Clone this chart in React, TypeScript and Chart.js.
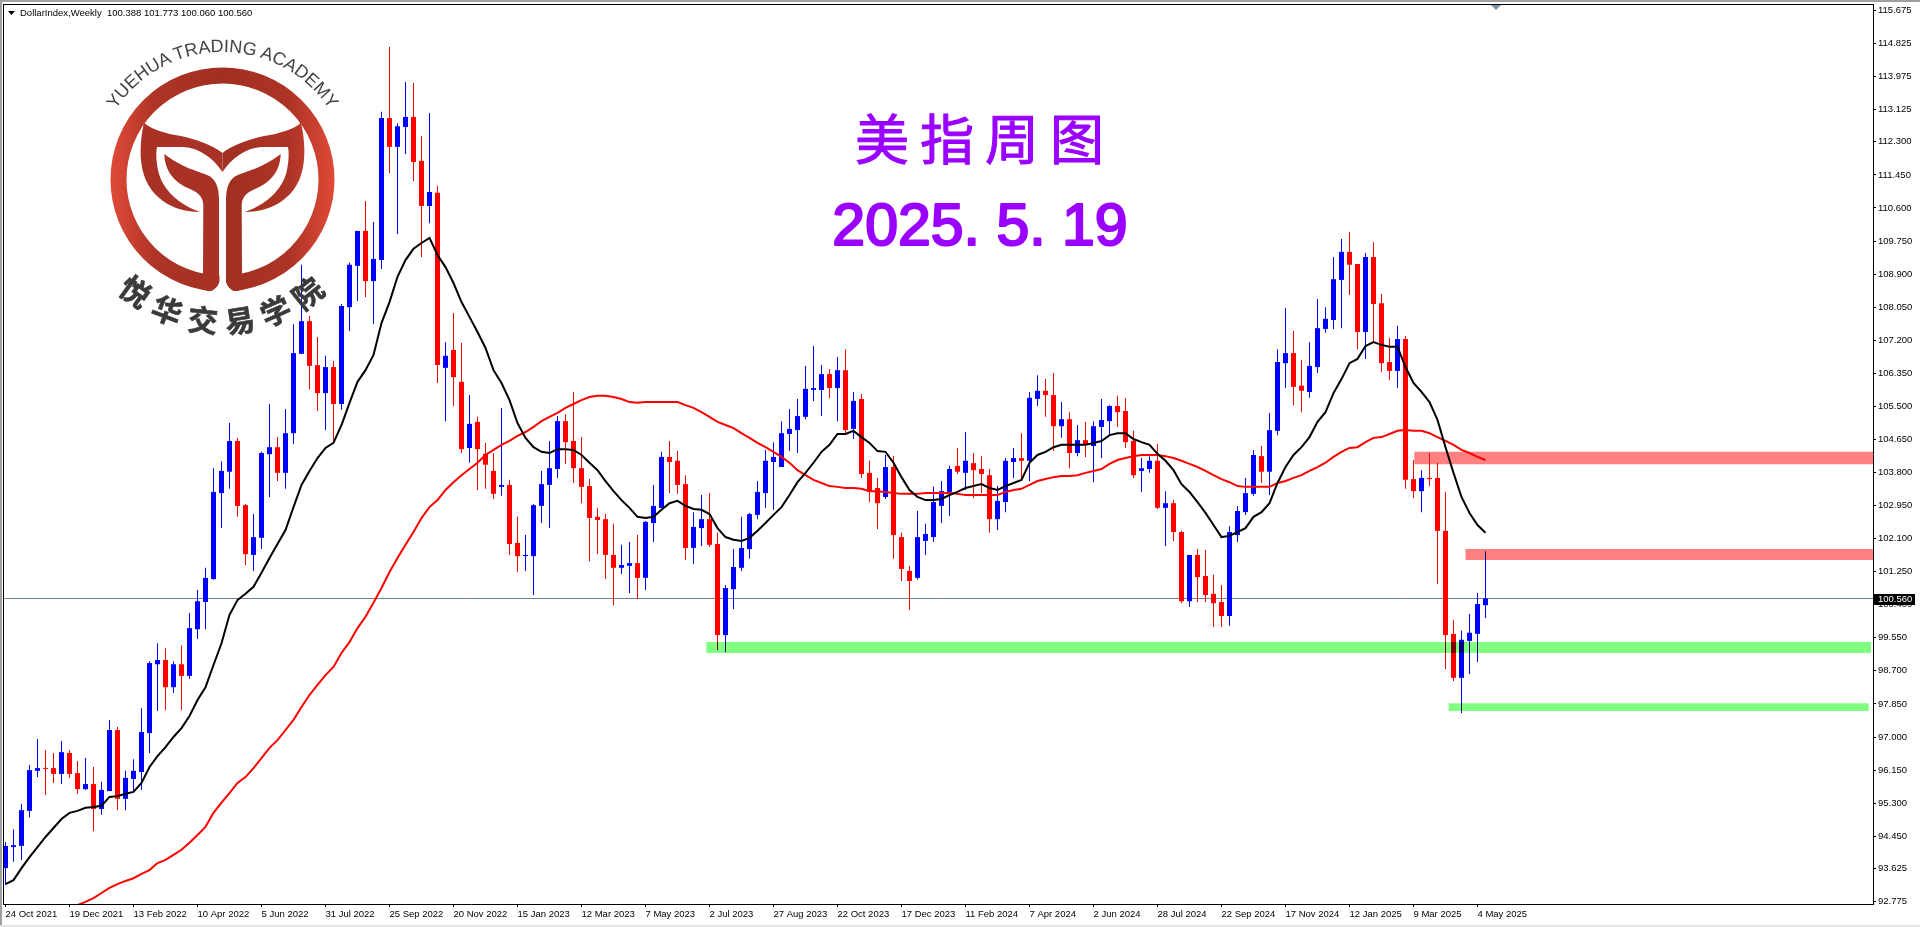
import React, { useEffect, useRef } from "react";
import { Chart, registerables } from "chart.js";

Chart.register(...registerables);

const priceTicks = [115.675,114.825,113.975,113.125,112.3,111.45,110.6,109.75,108.9,108.05,107.2,106.35,105.5,104.65,103.8,102.95,102.1,101.25,100.4,99.55,98.7,97.85,97,96.15,95.3,94.45,93.625,92.775];
const dateTicks = ["24 Oct 2021","19 Dec 2021","13 Feb 2022","10 Apr 2022","5 Jun 2022","31 Jul 2022","25 Sep 2022","20 Nov 2022","15 Jan 2023","12 Mar 2023","7 May 2023","2 Jul 2023","27 Aug 2023","22 Oct 2023","17 Dec 2023","11 Feb 2024","7 Apr 2024","2 Jun 2024","28 Jul 2024","22 Sep 2024","17 Nov 2024","12 Jan 2025","9 Mar 2025","4 May 2025"];

const opens = [
93.63,94.17,94.20,95.10,96.13,96.20,96.20,96.05,96.59,96.07,
95.66,95.79,95.15,95.61,97.18,95.41,95.92,96.10,97.10,98.87,
98.98,98.28,98.87,98.57,99.77,100.47,101.06,103.27,103.82,104.61,
102.96,101.68,102.12,104.27,104.45,103.79,104.81,106.85,107.69,106.56,
105.84,106.51,105.56,108.05,109.11,110.01,108.72,109.26,112.91,112.17,
112.68,112.94,111.81,110.65,110.99,106.49,106.95,106.13,104.43,105.10,
104.28,103.84,103.43,103.48,101.99,101.65,101.65,102.94,103.48,103.89,
105.12,104.61,103.91,103.45,102.66,102.60,101.68,101.35,101.40,101.47,
101.09,102.50,102.89,104.20,104.10,103.50,101.86,102.37,102.60,101.96,
99.62,100.80,101.35,101.83,102.71,103.27,104.07,103.94,104.79,104.89,
105.23,105.92,105.92,106.33,105.97,106.43,104.92,105.69,103.79,103.40,
103.17,103.94,102.14,101.27,101.09,102.04,102.14,102.94,103.30,103.97,
103.79,104.04,103.89,103.73,102.60,103.04,104.07,104.17,104.10,105.69,
105.90,105.79,104.99,105.17,104.30,104.63,104.48,104.97,105.12,105.51,
105.38,104.61,103.84,103.89,104.10,102.89,103.01,102.27,100.49,101.68,
101.14,100.68,100.47,100.11,102.19,102.78,103.25,104.22,103.82,104.87,
106.61,106.87,106.03,105.87,106.51,107.49,107.72,108.75,109.47,109.16,
107.41,109.34,108.15,106.64,106.41,107.23,103.63,103.32,103.66,103.66,
102.30,99.65,98.52,99.47,99.65,100.388];

const highs = [
94.30,94.63,95.28,96.28,96.95,96.66,96.59,96.90,96.66,96.38,
96.46,96.23,95.85,97.44,97.26,96.13,96.43,97.74,98.95,99.41,
99.28,98.95,99.36,100.19,100.78,101.35,103.91,104.09,105.07,104.69,
102.99,102.73,104.33,105.56,104.71,105.43,107.61,109.14,107.82,107.28,
106.80,106.67,108.13,109.19,110.01,110.78,110.24,113.07,114.74,112.78,
113.84,113.81,112.45,113.04,111.17,107.15,107.90,107.13,105.79,105.23,
104.56,104.30,105.46,103.61,102.66,102.19,102.99,103.84,104.61,105.25,
105.30,105.87,104.71,103.63,102.89,102.73,102.48,101.94,102.01,102.19,
102.55,103.48,104.33,104.61,104.35,103.73,102.78,103.22,103.27,102.25,
100.91,101.83,102.66,102.76,103.58,104.38,104.58,105.12,105.43,105.69,
106.54,107.05,106.56,106.46,106.77,106.97,105.87,105.82,104.10,103.66,
104.25,104.23,102.25,101.40,102.81,102.48,103.43,103.58,103.97,104.43,
104.84,104.30,104.22,103.89,103.45,104.17,104.43,104.81,105.87,106.30,
106.20,106.36,105.61,105.35,105.02,105.10,105.12,105.69,105.53,105.77,
105.71,104.87,104.17,104.22,104.53,103.32,103.09,102.30,101.68,101.83,
101.81,101.17,100.91,102.42,102.94,103.66,104.38,104.48,105.33,106.97,
108.03,107.44,106.69,107.15,108.26,108.05,109.34,109.80,109.98,109.16,
109.44,109.72,108.39,107.26,107.57,107.31,104.12,103.86,104.30,104.05,
103.30,100.01,99.73,100.16,100.70,101.773];

const lows = [
93.20,93.79,93.84,94.94,95.97,95.51,95.82,95.79,95.95,95.54,
95.64,94.58,95.00,95.61,95.12,95.12,95.61,95.64,96.59,97.67,
97.69,98.13,97.69,98.49,99.52,99.77,101.04,102.37,103.38,102.66,
101.42,101.27,101.83,103.17,103.58,103.38,104.53,106.85,105.94,105.38,
104.89,104.56,105.41,107.44,108.21,108.31,107.62,109.03,111.50,109.93,
111.99,111.29,109.34,110.21,106.10,105.12,105.51,104.30,104.05,103.35,
103.38,103.12,103.20,101.68,101.24,101.27,100.65,102.50,102.37,103.66,
104.02,103.53,103.01,101.52,101.70,101.06,100.39,101.19,100.70,100.55,
100.78,102.01,102.89,103.27,103.25,101.55,101.45,101.91,101.89,99.23,
99.18,100.29,101.27,101.58,102.60,102.89,102.84,103.94,104.35,104.30,
105.17,105.64,105.25,105.71,105.12,104.81,104.66,103.66,103.04,102.35,
103.12,101.58,101.01,100.27,101.04,101.68,102.01,102.50,102.68,103.76,
103.35,103.14,103.27,102.25,102.32,102.78,103.66,103.58,103.58,105.51,
105.23,104.35,104.69,103.91,104.22,104.20,103.55,104.17,104.77,104.97,
104.43,103.66,103.30,103.79,102.86,101.91,102.04,100.44,100.34,100.47,
100.47,99.83,99.83,99.86,102.01,102.71,103.20,103.53,103.22,104.76,
105.97,105.53,105.35,105.72,106.36,107.39,107.49,107.51,108.36,106.97,
106.72,107.15,106.38,106.18,105.97,103.38,103.14,102.78,103.45,100.93,
98.75,98.44,97.62,98.62,98.93,100.06];

const closes = [
94.20,94.22,95.12,96.15,96.20,96.18,96.05,96.61,96.05,95.66,
95.79,95.15,95.64,97.18,95.41,95.95,96.13,97.13,98.90,98.98,
98.28,98.87,98.57,99.80,100.49,101.09,103.30,103.84,104.61,102.94,
101.70,102.14,104.30,104.45,103.79,104.81,106.87,107.69,106.54,105.84,
106.51,105.56,108.08,109.14,110.01,108.72,109.29,112.91,112.17,112.70,
112.94,111.78,110.65,111.01,106.56,106.80,106.25,104.40,105.05,104.40,
104.00,103.25,103.48,101.96,101.65,101.68,102.96,103.50,103.91,105.12,
104.58,103.91,103.43,102.63,102.58,101.68,101.35,101.42,101.47,101.09,
102.53,102.94,104.20,104.07,103.48,101.86,102.40,102.60,101.94,99.62,
100.83,101.37,101.86,102.73,103.30,104.10,104.20,104.81,104.92,105.25,
105.95,105.97,106.33,105.97,106.43,104.89,105.64,103.76,103.30,103.01,
103.94,102.19,101.32,101.01,102.14,102.22,103.04,103.32,103.89,103.82,
104.10,103.86,103.76,102.60,103.07,104.10,104.17,104.10,105.72,105.90,
105.79,104.99,105.17,104.30,104.63,104.53,104.99,105.15,105.51,105.35,
104.58,103.73,103.91,104.10,102.89,103.01,102.27,100.49,101.68,101.11,
100.65,100.44,100.11,102.27,102.81,103.27,104.25,103.82,104.89,106.64,
106.87,106.00,105.90,106.54,107.51,107.75,108.77,109.47,109.14,107.41,
109.34,108.13,106.61,106.41,107.23,103.61,103.32,103.66,103.63,102.30,
99.62,98.52,99.50,99.68,100.42,100.56];

const blackMa = [
93.22,93.32,93.63,93.91,94.17,94.43,94.66,94.89,95.05,95.10,
95.18,95.20,95.23,95.46,95.48,95.54,95.59,95.82,96.23,96.51,
96.74,97.00,97.23,97.54,97.95,98.28,98.85,99.41,100.14,100.52,
100.68,100.86,101.22,101.60,101.96,102.32,102.91,103.48,103.84,104.17,
104.43,104.56,105.02,105.59,106.13,106.43,106.82,107.64,108.18,108.83,
109.26,109.55,109.70,109.83,109.39,109.08,108.67,108.18,107.80,107.41,
107.00,106.43,106.10,105.66,105.07,104.69,104.45,104.33,104.30,104.40,
104.40,104.38,104.25,104.05,103.86,103.58,103.32,103.09,102.89,102.66,
102.63,102.66,102.84,103.01,103.07,102.94,102.86,102.84,102.73,102.37,
102.14,102.07,102.04,102.12,102.30,102.50,102.71,102.91,103.22,103.55,
103.79,104.05,104.33,104.51,104.79,104.79,104.87,104.71,104.56,104.35,
104.33,104.05,103.68,103.35,103.17,103.09,103.09,103.12,103.22,103.30,
103.40,103.45,103.50,103.40,103.35,103.45,103.53,103.61,104.05,104.25,
104.33,104.45,104.51,104.51,104.51,104.51,104.56,104.61,104.76,104.81,
104.81,104.66,104.58,104.51,104.28,104.10,103.86,103.50,103.30,103.04,
102.76,102.45,102.14,102.17,102.27,102.37,102.66,102.78,103.01,103.53,
103.94,104.25,104.45,104.71,105.10,105.35,105.84,106.20,106.61,106.72,
107.05,107.15,107.08,107.03,107.03,106.51,106.10,105.87,105.61,105.15,
104.45,103.79,103.17,102.76,102.45,102.25];

const redMaStart = 9;
const redMa = [
92.68,92.76,92.86,92.99,93.12,93.22,93.30,93.37,93.48,93.58,
93.76,93.84,93.97,94.10,94.28,94.48,94.69,95.05,95.31,95.56,
95.82,95.97,96.20,96.46,96.72,96.92,97.18,97.44,97.77,98.08,
98.34,98.59,98.80,99.16,99.44,99.80,100.09,100.45,100.83,101.24,
101.60,101.94,102.27,102.63,102.91,103.09,103.35,103.55,103.73,103.89,
104.05,104.25,104.38,104.51,104.61,104.74,104.84,104.97,105.12,105.23,
105.33,105.46,105.56,105.66,105.74,105.77,105.77,105.74,105.69,105.61,
105.59,105.61,105.61,105.61,105.61,105.61,105.53,105.46,105.35,105.23,
105.10,105.02,104.94,104.81,104.69,104.56,104.45,104.33,104.20,104.05,
103.86,103.73,103.61,103.53,103.45,103.43,103.40,103.40,103.38,103.32,
103.32,103.30,103.27,103.25,103.25,103.25,103.27,103.27,103.27,103.27,
103.25,103.22,103.22,103.22,103.22,103.22,103.30,103.35,103.38,103.48,
103.58,103.63,103.68,103.71,103.71,103.73,103.79,103.84,103.89,104.02,
104.12,104.17,104.22,104.25,104.25,104.25,104.22,104.17,104.10,104.02,
103.94,103.84,103.73,103.63,103.55,103.45,103.43,103.43,103.43,103.43,
103.53,103.58,103.66,103.73,103.84,103.94,104.05,104.20,104.33,104.43,
104.45,104.58,104.69,104.71,104.79,104.87,104.89,104.87,104.87,104.81,
104.71,104.61,104.51,104.38,104.30,104.20,104.12];

const zoneStarts = [176.1, 182.5, 87.6, 180.4];
const zoneEnds = [233.44, 233.44, 233.2, 232.9];
const zoneLows = [104.01, 101.55, 99.16, 97.67];
const zoneHighs = [104.33, 101.83, 99.44, 97.87];
const zoneColors = ["#ff8080", "#ff8080", "#80ff80", "#80ff80"];

const lastPrice = 100.56;
const headerName = "DollarIndex,Weekly";
const headerQuote = "100.388 101.773 100.060 100.560";
const titleCn = "美指周图";
const titleDate = "2025. 5. 19";

const xMin = -0.1875;
const xMax = 233.4375;
const yMax = 115.843;
const yMin = 92.707;
const pxPerUnit = 900 / (yMax - yMin);
const axisFont = { family: "'Liberation Sans',sans-serif", size: 9.5 };

const blendPlugin = {
  id: "zoneBlend",
  beforeDatasetDraw(chart: any, args: any) {
    if (chart.data.datasets[args.index].isZone) chart.ctx.globalCompositeOperation = "multiply";
  },
  afterDatasetDraw(chart: any, args: any) {
    if (chart.data.datasets[args.index].isZone) chart.ctx.globalCompositeOperation = "source-over";
  },
};

const framePlugin = {
  id: "frame",
  beforeDraw(chart: any) {
    const { ctx, width, height, chartArea: a } = chart;
    ctx.save();
    ctx.fillStyle = "#ffffff";
    ctx.fillRect(0, 0, width, height);
    ctx.fillStyle = "#a0a0a0";
    ctx.fillRect(0, 0, width, 2);
    ctx.fillRect(0, 0, 2, height);
    ctx.fillStyle = "#e4e4e4";
    ctx.fillRect(0, height - 2, width, 2);
    ctx.fillStyle = "#000000";
    ctx.fillRect(3, a.top, a.right - 3, 1);
    ctx.fillRect(3, a.top, 1, a.bottom - a.top + 1);
    ctx.restore();
  },
  afterDraw(chart: any) {
    const { ctx, scales, chartArea: a } = chart;
    ctx.save();
    // header
    ctx.fillStyle = "#000000";
    ctx.beginPath();
    ctx.moveTo(8, 11);
    ctx.lineTo(15, 11);
    ctx.lineTo(11.5, 15);
    ctx.closePath();
    ctx.fill();
    ctx.font = `9.5px ${axisFont.family}`;
    ctx.textBaseline = "middle";
    ctx.textAlign = "left";
    ctx.fillText(headerName, 20, 13);
    ctx.fillText(headerQuote, 107, 13);
    // small marker at the top edge
    ctx.fillStyle = "#7c8ca4";
    ctx.beginPath();
    ctx.moveTo(1491, 5);
    ctx.lineTo(1501, 5);
    ctx.lineTo(1496, 10);
    ctx.closePath();
    ctx.fill();
    // last price tag
    const y = scales.y.getPixelForValue(lastPrice);
    ctx.fillStyle = "#000000";
    ctx.fillRect(a.right + 1, Math.round(y) - 5, 41, 11);
    ctx.fillStyle = "#ffffff";
    ctx.fillText(lastPrice.toFixed(3), a.right + 5, Math.round(y) + 0.5);
    // titles
    ctx.fillStyle = "#9900ff";
    ctx.strokeStyle = "#9900ff";
    ctx.textAlign = "center";
    ctx.font = "54px 'Noto Sans CJK SC'";
    (ctx as any).letterSpacing = "11px";
    ctx.lineWidth = 1;
    ctx.fillText(titleCn, 985, 139);
    ctx.strokeText(titleCn, 985, 139);
    (ctx as any).letterSpacing = "0px";
    ctx.textBaseline = "alphabetic";
    ctx.font = "59px 'Liberation Sans'";
    ctx.lineWidth = 2.2;
    ctx.lineJoin = "round";
    ctx.fillText(titleDate, 980, 245);
    ctx.strokeText(titleDate, 980, 245);
    ctx.restore();
  },
};

function Logo() {
  const hornPath =
    "M222.5 153 C232 145 255 137 270 135 C285 132 295 128 301 122.7 C305 140 306 160 301 175 C295 195 275 212 245 212 C265 205 283 190 287 170 C289 160 289 152 288 147 L262 147 C245 148 232 158 222.5 172 Z";
  const leafPath =
    "M280.7 154 C262 168 250 170 238 175 C230 178 226 186 226 200 L226 280 C226 285 232 291 237 291 L246 288 L242 274 L241.7 205 C242 196 248 192 255 189 C270 183 280 172 280.7 154 Z";
  const mirror = "translate(445,0) scale(-1,1)";
  return (
    <svg width={1920} height={927} style={{ position: "absolute", left: 0, top: 0, pointerEvents: "none" }}>
      <defs>
        <linearGradient id="logoGrad" gradientUnits="userSpaceOnUse" x1="110" y1="0" x2="335" y2="0">
          <stop offset="0" stopColor="#e24a38" />
          <stop offset="0.2" stopColor="#ad3426" />
          <stop offset="0.5" stopColor="#a03022" />
          <stop offset="0.8" stopColor="#ad3426" />
          <stop offset="1" stopColor="#e24a38" />
        </linearGradient>
        <path id="arcTop" d="M111.6 116 A128 128 0 0 1 333.4 116" fill="none" />
        <path id="arcBottom" d="M90 256.5 A153 153 0 0 0 355 256.5" fill="none" />
      </defs>
      <circle cx="222.5" cy="179.5" r="104" fill="none" stroke="url(#logoGrad)" strokeWidth="16" />
      <path d="M219.5 270 L226 270 L226 280 C226 286 231 290 237 293 L208 293 C214 290 219.5 286 219.5 280 Z" fill="#ffffff" />
      <path d={hornPath} fill="url(#logoGrad)" />
      <path d={leafPath} fill="url(#logoGrad)" />
      <g transform={mirror}>
        <path d={hornPath} fill="#a83226" />
        <path d={leafPath} fill="#a83226" />
      </g>
      <text fontFamily="'Liberation Sans'" fontSize="18" fill="#444444" textAnchor="middle">
        <textPath href="#arcTop" startOffset="50%">YUEHUA TRADING ACADEMY</textPath>
      </text>
      <text fontFamily="'Noto Sans CJK SC'" fontWeight="700" fontSize="30" letterSpacing="10" fill="#3a3a3a" stroke="#3a3a3a" strokeWidth="0.6" textAnchor="middle">
        <textPath href="#arcBottom" startOffset="51.3%">悦华交易学院</textPath>
      </text>
    </svg>
  );
}

export default function App() {
  const ref = useRef<HTMLCanvasElement>(null);
  useEffect(() => {
    const idx = closes.map((_, i) => i);
    const barColors = idx.map((i) => (closes[i] >= opens[i] ? "#0000ff" : "#ff0000"));
    const zoneSets = zoneStarts.map((s, i) => ({
      type: "line",
      isZone: true,
      label: `zone ${i}`,
      data: [
        { x: s, y: (zoneLows[i] + zoneHighs[i]) / 2 },
        { x: zoneEnds[i], y: (zoneLows[i] + zoneHighs[i]) / 2 },
      ],
      borderColor: zoneColors[i],
      borderWidth: (zoneHighs[i] - zoneLows[i]) * pxPerUnit,
      pointRadius: 0,
      order: 1,
    }));
    const chart = new Chart(ref.current as HTMLCanvasElement, {
      type: "bar",
      data: {
        datasets: [
          {
            type: "line",
            label: "price",
            data: [{ x: xMin, y: lastPrice }, { x: xMax, y: lastPrice }],
            borderColor: "#708090",
            borderWidth: 1,
            pointRadius: 0,
            order: 10,
          },
          {
            label: "wicks",
            data: idx.map((i) => ({ x: i, y: [lows[i], highs[i]] })),
            backgroundColor: barColors,
            barThickness: 1,
            grouped: false,
            inflateAmount: 0,
            order: 9,
          },
          {
            label: "bodies",
            data: idx.map((i) => ({ x: i, y: [opens[i], closes[i]] })),
            backgroundColor: barColors,
            barThickness: 5,
            grouped: false,
            inflateAmount: 0,
            minBarLength: 1,
            order: 8,
          },
          {
            type: "line",
            label: "slow MA",
            data: redMa.map((v, i) => ({ x: i + redMaStart, y: v })),
            borderColor: "#ff0000",
            borderWidth: 2,
            pointRadius: 0,
            order: 3,
          },
          {
            type: "line",
            label: "fast MA",
            data: blackMa.map((v, i) => ({ x: i, y: v })),
            borderColor: "#000000",
            borderWidth: 2,
            pointRadius: 0,
            order: 2,
          },
          ...zoneSets,
        ] as any,
      },
      options: {
        responsive: false,
        animation: false,
        events: [],
        layout: { padding: { left: 4, top: 4, right: 0, bottom: 0 } },
        plugins: { legend: { display: false }, tooltip: { enabled: false }, title: { display: false } },
        scales: {
          x: {
            type: "linear",
            min: xMin,
            max: xMax,
            offset: false,
            afterBuildTicks: (s: any) => {
              s.ticks = dateTicks.map((_, i) => ({ value: i * 8 }));
            },
            afterFit: (s: any) => {
              s.height = 23;
              s.paddingLeft = 0;
              s.paddingRight = 0;
            },
            ticks: {
              callback: (v: any) => dateTicks[Math.round(v / 8)],
              align: "start",
              autoSkip: false,
              maxRotation: 0,
              minRotation: 0,
              padding: 2,
              color: "#000000",
              font: axisFont,
            },
            grid: { display: true, drawOnChartArea: false, drawTicks: true, tickLength: 3, tickColor: "#000000", offset: false },
            border: { display: true, color: "#000000", width: 1 },
          },
          y: {
            type: "linear",
            position: "right",
            min: yMin,
            max: yMax,
            afterBuildTicks: (s: any) => {
              s.ticks = priceTicks.map((v) => ({ value: v }));
            },
            afterFit: (s: any) => {
              s.width = 47;
              s.paddingTop = 0;
              s.paddingBottom = 0;
            },
            ticks: {
              callback: (v: any) => Number(v).toFixed(3),
              autoSkip: false,
              padding: 2,
              color: "#000000",
              font: axisFont,
            },
            grid: { display: true, drawOnChartArea: false, drawTicks: true, tickLength: 3, tickColor: "#000000" },
            border: { display: true, color: "#000000", width: 1 },
          },
        },
      } as any,
      plugins: [blendPlugin, framePlugin],
    } as any);
    return () => chart.destroy();
  }, []);
  return (
    <div style={{ position: "fixed", left: 0, top: 0, width: 1920, height: 927, background: "#fff", overflow: "hidden" }}>
      <canvas ref={ref} width={1920} height={927} style={{ display: "block", width: 1920, height: 927 }} />
      <Logo />
    </div>
  );
}
